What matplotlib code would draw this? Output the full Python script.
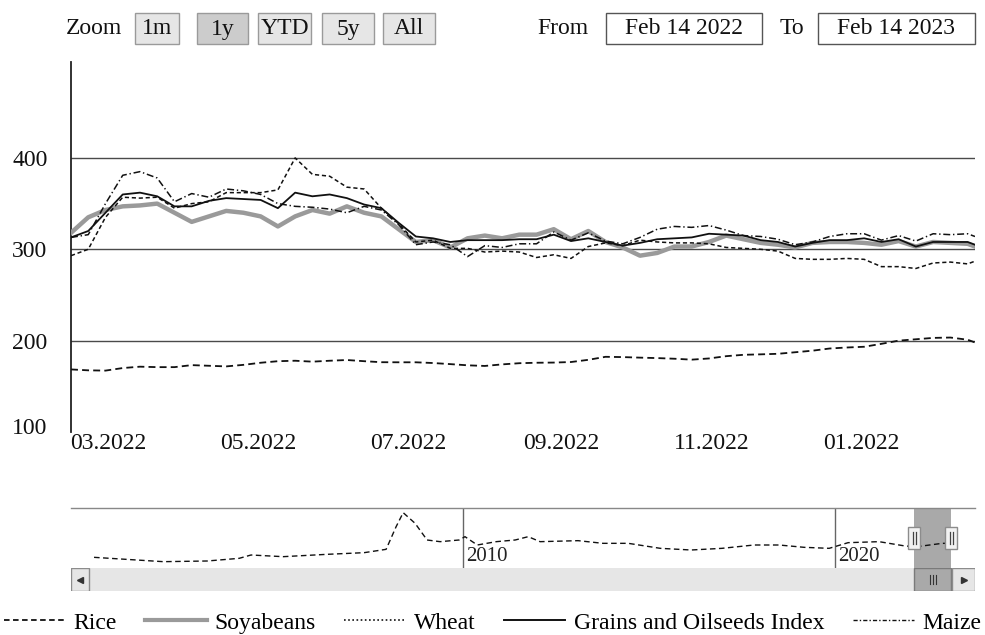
import matplotlib
matplotlib.use('Agg')
import matplotlib.pyplot as plt
import matplotlib.dates as mdates
import matplotlib.patches as mpatches
import matplotlib.transforms as mtransforms
from matplotlib.lines import Line2D
import pandas as pd

plt.rcParams['font.family'] = ['Liberation Serif', 'DejaVu Serif']
plt.rcParams['lines.scale_dashes'] = False

# ---------------- data ----------------
dates = list(pd.date_range('2022-02-14', periods=53, freq='7D')) + [pd.Timestamp('2023-02-16')]

rice = [168.5, 167.5, 167.2, 170, 171.5, 171, 171, 173.2, 172.5, 171.8,
        173.5, 175.8, 177.5, 178, 177, 178, 178.8, 177.5, 176.4, 176.3,
        176.3, 175.5, 174.3, 173, 172.3, 174, 175.3, 175.8, 176, 176.6,
        179, 182.3, 182, 181.4, 180.9, 180.2, 179.2, 180.5, 183, 184.5,
        185, 185.6, 187.3, 189, 191.4, 192.5, 193.3, 196.5, 200, 201.5,
        203, 203.4, 201, 198]
soyabeans = [318, 335, 343, 347, 348, 350, 340, 330, 336, 342,
             340, 336, 325, 336, 343, 339, 347, 340, 336, 322,
             308, 310, 302, 312, 315, 312, 316, 316, 322, 311,
             320, 308, 302, 293, 296, 303, 303, 308, 315, 311,
             307, 305, 302, 307, 308, 308, 307, 305, 309, 303,
             308, 307, 306, 303]
wheat = [293, 300, 335, 357, 356, 357, 345, 350, 352, 362,
         362, 362, 365, 400, 382, 380, 368, 366, 345, 328,
         308, 310, 301, 301, 297, 298, 297, 291, 294, 290,
         303, 307, 304, 310, 308, 307, 307, 306, 302, 301,
         300, 298, 290, 289, 289, 290, 289, 281, 281, 279,
         285, 286, 284, 287]
grains_index = [313, 320, 340, 360, 362, 358, 347, 347, 353, 356,
                355, 354, 345, 362, 358, 360, 356, 349, 345, 329,
                314, 312, 308, 310, 310, 310, 311, 311, 316, 309,
                312, 308, 304, 307, 311, 312, 313, 317, 316, 315,
                310, 308, 303, 307, 310, 310, 312, 308, 311, 303,
                308, 308, 308, 305]
maize = [313, 316, 350, 381, 385, 378, 352, 361, 357, 366,
         364, 360, 350, 347, 346, 344, 340, 347, 343, 327,
         305, 308, 305, 292, 304, 302, 306, 306, 319, 310,
         318, 309, 306, 313, 322, 325, 324, 326, 321, 315,
         314, 311, 305, 308, 314, 317, 317, 310, 315, 309,
         317, 316, 317, 314]

series_names = ['Rice', 'Soyabeans', 'Wheat', 'Grains and Oilseeds Index', 'Maize']

nav_years = [2000.08, 2000.94, 2001.94, 2003.12, 2003.98, 2004.30, 2005.16, 2006.34,
             2007.34, 2007.93, 2008.20, 2008.39, 2008.71, 2009.03, 2009.38, 2009.89,
             2010.05, 2010.38, 2010.89, 2011.40, 2011.75, 2012.07, 2013.09, 2013.76,
             2014.44, 2015.30, 2016.13, 2016.96, 2017.82, 2018.49, 2019.17, 2019.84,
             2020.35, 2021.18, 2021.88, 2022.20, 2022.88, 2023.12]
nav_rice = [148, 142, 135, 137, 145, 155, 150, 157, 162, 172,
            240, 282, 250, 200, 195, 200, 210, 185, 195, 200,
            210, 195, 198, 190, 190, 175, 170, 175, 185, 185,
            178, 175, 192, 195, 182, 180, 190, 190]

xtick_dates = ['2022-03-01', '2022-05-01', '2022-07-01', '2022-09-01', '2022-11-01', '2023-01-01']
xtick_labels = ['03.2022', '05.2022', '07.2022', '09.2022', '11.2022', '01.2022']
ytick_values = [100, 200, 300, 400]
nav_tick_years = [2010, 2020]
nav_tick_labels = ['2010', '2020']

zoom_buttons = ['1m', '1y', 'YTD', '5y', 'All']
selected_button = '1y'
from_text = 'Feb 14 2022'
to_text = 'Feb 14 2023'


def yr2date(y):
    yi = int(y)
    return pd.Timestamp(yi, 1, 1) + pd.Timedelta(days=(y - yi) * 365.25)


# ---------------- figure ----------------
W, H = 985, 635
fig = plt.figure(figsize=(W / 100, H / 100), dpi=100)


def frac(x0, y0, x1, y1):
    return [x0 / W, 1 - y1 / H, (x1 - x0) / W, (y1 - y0) / H]


FS = 17
ax = fig.add_axes(frac(71, 62, 975, 432))
nav = fig.add_axes(frac(71, 508, 975, 568))
scr = fig.add_axes(frac(71, 568, 975, 591), sharex=nav)

# ---------------- main chart ----------------
ax.plot(dates, rice, color='#111111', lw=1.3, ls=(0, (5, 3)), zorder=3)
ax.plot(dates, soyabeans, color='#9a9a9a', lw=3.2, zorder=3, solid_joinstyle='round')
ax.plot(dates, wheat, color='#111111', lw=1.1, ls=(0, (3, 2)), zorder=3)
ax.plot(dates, grains_index, color='#111111', lw=1.3, zorder=3)
ax.plot(dates, maize, color='#111111', lw=1.1, ls=(0, (5, 2, 1, 2)), zorder=3)

ax.set_xlim(pd.Timestamp('2022-02-14'), pd.Timestamp('2023-02-16'))
ax.set_ylim(100, 505)
ax.set_yticks(ytick_values)
ax.set_yticklabels([str(v) for v in ytick_values])
ax.set_xticks([pd.Timestamp(d) for d in xtick_dates])
ax.set_xticklabels(xtick_labels)
ax.tick_params(axis='both', length=0, labelsize=FS, colors='#111111')
ax.tick_params(axis='y', pad=17)
ax.tick_params(axis='x', pad=1)
ax.grid(axis='y', color='#4a4a4a', lw=1.0, zorder=1)
ax.get_ygridlines()[0].set_visible(False)
for s in ['top', 'right', 'bottom']:
    ax.spines[s].set_visible(False)
ax.spines['left'].set_color('#222222')
ax.spines['left'].set_linewidth(1.3)
# lift the bottom label slightly, as in the reference
lab100 = ax.get_yticklabels()[0]
lab100.set_transform(lab100.get_transform() +
                     mtransforms.ScaledTranslation(0, 6 / 100, fig.dpi_scale_trans))

# ---------------- navigator ----------------
nav_dates = [yr2date(y) for y in nav_years]
nav.axvspan(dates[0], dates[-1], color='#a9a9a9', lw=0, zorder=0)
nav.plot(nav_dates, nav_rice, color='#111111', lw=1.0, ls=(0, (4, 2.5)), zorder=3)
nav.set_xlim(yr2date(1999.46), yr2date(2023.76))
nav.set_ylim(116, 296)
nav.set_xticks([])
nav.set_yticks([])
for s in ['left', 'right', 'bottom']:
    nav.spines[s].set_visible(False)
nav.spines['top'].set_color('#888888')
nav.spines['top'].set_linewidth(1.0)
for yv, lab in zip(nav_tick_years, nav_tick_labels):
    d = pd.Timestamp(yv, 1, 1)
    nav.axvline(d, color='#666666', lw=1.0, zorder=1)
    nav.annotate(lab, xy=(d, 0), xycoords=('data', 'axes fraction'),
                 xytext=(2.5, 1.5), textcoords='offset points',
                 ha='left', va='bottom', fontsize=15, color='#222222')

# ---------------- scrollbar ----------------
scr.axis('off')
scr.add_patch(mpatches.Rectangle((0, 0), 1, 1, transform=scr.transAxes,
                                 fc='#e6e6e6', ec='none', zorder=0))
scr.add_patch(mpatches.Rectangle((0, 0), 18 / 904, 1, transform=scr.transAxes,
                                 fc='#e6e6e6', ec='#8c8c8c', lw=1, zorder=2))
scr.axvspan(dates[0], dates[-1], fc='#a9a9a9', ec='#7a7a7a', lw=1, zorder=2)
scr.add_patch(mpatches.Rectangle((881 / 904, 0), 23 / 904, 1, transform=scr.transAxes,
                                 fc='#e6e6e6', ec='#8c8c8c', lw=1, zorder=2))
scr.plot([9 / 904], [0.5], marker='<', ms=4.5, color='#333333', transform=scr.transAxes, zorder=4)
scr.plot([892.5 / 904], [0.5], marker='>', ms=4.5, color='#333333', transform=scr.transAxes, zorder=4)

# ---------------- overlay (toolbar, handles) ----------------
ov = fig.add_axes([0, 0, 1, 1], zorder=10)
ov.set_xlim(0, W)
ov.set_ylim(H, 0)
ov.axis('off')

ov.text(66, 29, 'Zoom', ha='left', va='center', fontsize=FS, color='#111111')
btn_pos = [(135, 179), (197, 248), (258, 311), (322, 374), (383, 435)]
for lab, (x0, x1) in zip(zoom_buttons, btn_pos):
    fc = '#cccccc' if lab == selected_button else '#e6e6e6'
    ov.add_patch(mpatches.Rectangle((x0, 13), x1 - x0, 31, fc=fc, ec='#9a9a9a', lw=1))
    ov.text((x0 + x1) / 2, 29, lab, ha='center', va='center', fontsize=FS, color='#111111')

ov.text(537, 29, 'From', ha='left', va='center', fontsize=FS, color='#111111')
ov.add_patch(mpatches.Rectangle((606, 13), 156, 31, fc='white', ec='#555555', lw=1))
ov.text(684, 29, from_text, ha='center', va='center', fontsize=FS, color='#111111')
ov.text(780, 29, 'To', ha='left', va='center', fontsize=FS, color='#111111')
ov.add_patch(mpatches.Rectangle((818, 13), 157, 31, fc='white', ec='#555555', lw=1))
ov.text(896, 29, to_text, ha='center', va='center', fontsize=FS, color='#111111')

# navigator handles at mask edges
fig.canvas.draw()
for d in (dates[0], dates[-1]):
    xd = nav.transData.transform((mdates.date2num(d), 0))[0]
    xp = xd * W / fig.bbox.width
    ov.add_patch(mpatches.Rectangle((xp - 6, 527), 12, 22, fc='#f2f2f2', ec='#8c8c8c', lw=1))
    ov.plot([xp - 1.5, xp - 1.5], [532, 544], color='#444444', lw=0.9)
    ov.plot([xp + 1.5, xp + 1.5], [532, 544], color='#444444', lw=0.9)

# scrollbar thumb grip
x0 = nav.transData.transform((mdates.date2num(dates[0]), 0))[0] * W / fig.bbox.width
x1 = nav.transData.transform((mdates.date2num(dates[-1]), 0))[0] * W / fig.bbox.width
xc = (x0 + x1) / 2
for dx in (-3, 0, 3):
    ov.plot([xc + dx, xc + dx], [575, 584], color='#333333', lw=0.8)

# ---------------- legend ----------------
handles = [
    Line2D([], [], color='#111111', lw=1.3, ls=(0, (4, 2.5))),
    Line2D([], [], color='#9a9a9a', lw=3.0),
    Line2D([], [], color='#111111', lw=1.2, ls=(0, (1.2, 1.8))),
    Line2D([], [], color='#111111', lw=1.4),
    Line2D([], [], color='#111111', lw=1.0, ls=(0, (3, 1.5, 1, 1.5))),
]
fig.legend(handles, series_names, loc='center', bbox_to_anchor=(0.5, 1 - 623 / H),
           ncol=5, frameon=False, fontsize=FS, handlelength=2.6, handletextpad=0.35,
           columnspacing=1.2, borderaxespad=0, borderpad=0)

fig.savefig('out.png', dpi=100)
